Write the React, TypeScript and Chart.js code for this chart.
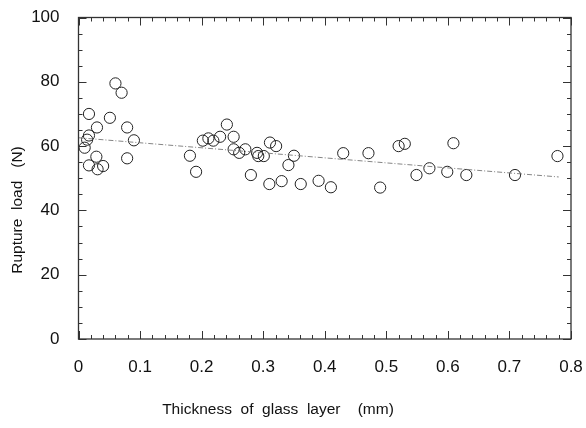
import React, { useEffect, useRef } from "react";
import { Chart, registerables } from "chart.js";

Chart.register(...registerables);

// Measured points: thickness of glass layer (mm) and rupture load (N)
const thicknessMm = [
  0.010, 0.014, 0.017, 0.017, 0.017, 0.030, 0.029, 0.031, 0.040, 0.051,
  0.060, 0.070, 0.079, 0.079, 0.090,
  0.181, 0.191, 0.202, 0.211, 0.219, 0.230, 0.241, 0.252, 0.252, 0.261,
  0.271, 0.280, 0.290, 0.292, 0.301, 0.310, 0.311, 0.321, 0.330, 0.341,
  0.350, 0.361, 0.390, 0.410, 0.430, 0.471, 0.490, 0.520, 0.530, 0.549,
  0.570, 0.599, 0.609, 0.630, 0.709, 0.778,
];
const ruptureLoadN = [
  59.5, 62.0, 63.3, 70.0, 54.0, 65.8, 56.7, 52.8, 53.8, 68.8,
  79.5, 76.6, 65.8, 56.2, 61.8,
  57.0, 52.0, 61.7, 62.4, 61.7, 62.9, 66.7, 62.9, 59.0, 57.9,
  59.0, 51.0, 57.9, 56.9, 56.9, 48.2, 61.1, 60.0, 49.1, 54.1,
  57.0, 48.2, 49.2, 47.2, 57.8, 57.8, 47.1, 60.0, 60.7, 51.0,
  53.1, 52.0, 60.9, 51.0, 51.0, 56.9,
];

// Regression (trend) line end points
const trendX = [0, 0.78];
const trendY = [62.6, 50.4];

const xTickValues = [0, 0.1, 0.2, 0.3, 0.4, 0.5, 0.6, 0.7, 0.8];
const yTickValues = [0, 20, 40, 60, 80, 100];

const xTitle = "Thickness  of  glass  layer    (mm)";
const yTitle = "Rupture  load   (N)";

const FONT = "'Liberation Sans', Arial, Helvetica, sans-serif";

const innerTicks = {
  id: "innerTicks",
  afterDraw(chart: any) {
    const { ctx, chartArea, scales } = chart;
    const { left, right, top, bottom } = chartArea;
    const x = scales.x;
    const y = scales.y;
    ctx.save();
    ctx.strokeStyle = "#333";
    ctx.lineWidth = 1;
    ctx.beginPath();
    for (let i = 0; i <= 40; i++) {
      const v = x.min + i * 0.02;
      const px = Math.round(x.getPixelForValue(v)) + 0.5;
      const len = i % 5 === 0 ? 8 : 4;
      ctx.moveTo(px, bottom);
      ctx.lineTo(px, bottom - len);
      ctx.moveTo(px, top);
      ctx.lineTo(px, top + len);
    }
    for (let i = 0; i <= 20; i++) {
      const v = y.min + i * 5;
      const py = Math.round(y.getPixelForValue(v)) + 0.5;
      const len = i % 4 === 0 ? 8 : 4;
      ctx.moveTo(left, py);
      ctx.lineTo(left + len, py);
      ctx.moveTo(right, py);
      ctx.lineTo(right - len, py);
    }
    ctx.stroke();
    ctx.strokeStyle = "#333";
    ctx.lineWidth = 1.3;
    ctx.strokeRect(left, top, right - left, bottom - top);
    // axis titles
    ctx.fillStyle = "#111";
    ctx.textAlign = "center";
    ctx.textBaseline = "middle";
    ctx.font = `15.5px ${FONT}`;
    ctx.fillText(xTitle, 278, 410);
    ctx.translate(18, 210);
    ctx.rotate(-Math.PI / 2);
    ctx.fillText(yTitle, 0, 0);
    ctx.restore();
  },
};

export default function App() {
  const ref = useRef<HTMLCanvasElement | null>(null);
  useEffect(() => {
    if (!ref.current) return;
    const chart = new Chart(ref.current, {
      type: "scatter",
      data: {
        datasets: [
          {
            type: "line",
            label: "trend",
            data: trendX.map((v, i) => ({ x: v, y: trendY[i] })),
            borderColor: "#777",
            borderWidth: 0.9,
            borderDash: [5, 2, 1, 2],
            pointRadius: 0,
            fill: false,
          } as any,
          {
            label: "data",
            data: thicknessMm.map((v, i) => ({ x: v, y: ruptureLoadN[i] })),
            pointStyle: "circle",
            pointRadius: 5.6,
            pointBorderWidth: 1,
            borderColor: "#222",
            backgroundColor: "rgba(255,255,255,0)",
          },
        ],
      },
      options: {
        responsive: false,
        animation: false,
        layout: { padding: { top: 17.5, right: 15, left: 0, bottom: 0 } },
        plugins: { legend: { display: false }, tooltip: { enabled: false } },
        scales: {
          x: {
            type: "linear",
            min: 0,
            max: 0.8,
            afterFit: (s: any) => {
              s.height = 89;
              s.paddingLeft = 0;
              s.paddingRight = 0;
            },
            afterBuildTicks: (s: any) => {
              s.ticks = xTickValues.map((v) => ({ value: v }));
            },
            grid: { display: false },
            border: { display: false },
            ticks: {
              padding: 10,
              color: "#111",
              font: { family: FONT, size: 17 },
              callback: (v: any) => String(v),
            },
          },
          y: {
            type: "linear",
            min: 0,
            max: 100,
            afterFit: (s: any) => {
              s.width = 78.5;
              s.paddingTop = 0;
              s.paddingBottom = 0;
            },
            afterBuildTicks: (s: any) => {
              s.ticks = yTickValues.map((v) => ({ value: v }));
            },
            grid: { display: false },
            border: { display: false },
            ticks: {
              padding: 11,
              color: "#111",
              font: { family: FONT, size: 17 },
            },
          },
        },
      },
      plugins: [innerTicks],
    });
    return () => chart.destroy();
  }, []);
  return (
    <div style={{ position: "absolute", left: 0, top: 0, width: 586, height: 428, background: "#fff" }}>
      <canvas ref={ref} width={586} height={428} style={{ display: "block" }} />
    </div>
  );
}
